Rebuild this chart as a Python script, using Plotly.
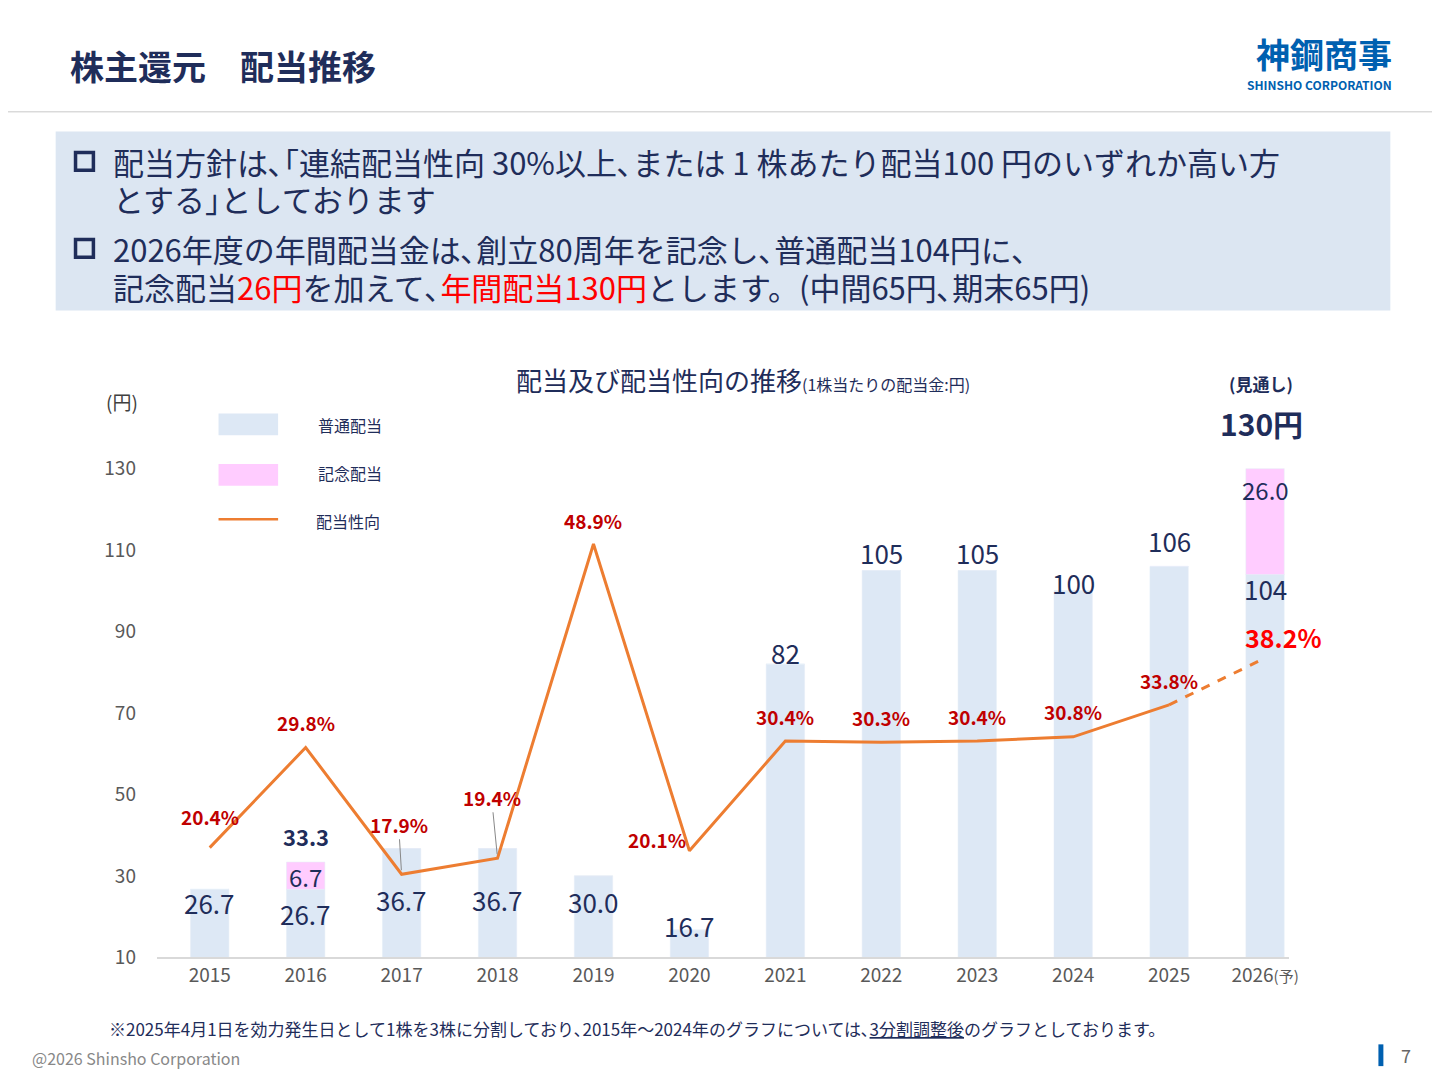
import plotly.graph_objects as go

W, H = 1440, 1080
FONT = "Noto Sans CJK JP"
NAVY = "#1F2D5A"
RED = "#C00000"

years = ["2015", "2016", "2017", "2018", "2019", "2020", "2021", "2022", "2023", "2024", "2025", "2026<span style='font-size:15px'>(予)</span>"]
ordinary = [26.7, 26.7, 36.7, 36.7, 30.0, 16.7, 82, 105, 105, 100, 106, 104]
commemorative = [0, 6.7, 0, 0, 0, 0, 0, 0, 0, 0, 0, 26.0]
payout = [20.4, 29.8, 17.9, 19.4, 48.9, 20.1, 30.4, 30.3, 30.4, 30.8, 33.8, 38.2]
ordinary_text = ["26.7", "26.7", "36.7", "36.7", "30.0", "16.7", "82", "105", "105", "100", "106", "104"]
payout_text = ["20.4%", "29.8%", "17.9%", "19.4%", "48.9%", "20.1%", "30.4%", "30.3%", "30.4%", "30.8%", "33.8%", "38.2%"]

# label placement (y in axis units / pixel shifts)
ord_label_y = [23.4, 20.7, 24.3, 24.3, 23.8, 17.8, 84.8, 109.3, 109.3, 102.1, 112.3, 100.6]
pay_shift = [(0, 31), (0, 25), (-3, 50), (-6, 61), (0, 24), (-32, 11), (0, 25), (0, 25), (0, 25), (0, 25), (0, 24), (18, 21)]

xi = list(range(len(years)))


def px(x):
    return x / W


def py(y):
    return 1 - y / H


fig = go.Figure()
fig.add_bar(x=xi, y=ordinary, base=0, marker_color="#DDE8F5", width=0.4,
            hoverinfo="skip", showlegend=False)
fig.add_bar(x=xi, y=commemorative, base=ordinary, marker_color="#FFCCFF", width=0.4,
            hoverinfo="skip", showlegend=False)
fig.add_scatter(x=xi[:-1], y=payout[:-1], yaxis="y2", mode="lines",
                line=dict(color="#ED7D31", width=3), showlegend=False)
fig.add_scatter(x=xi[-2:], y=payout[-2:], yaxis="y2", mode="lines",
                line=dict(color="#ED7D31", width=3, dash="dash"), showlegend=False)

ann = []
for x, t, yv in zip(xi, ordinary_text, ord_label_y):
    ann.append(dict(x=x, y=yv, xref="x", yref="y", text=t, showarrow=False,
                    font=dict(size=26, color=NAVY, family=FONT)))
ann += [
    dict(x=1, y=29.9, xref="x", yref="y", text="6.7", showarrow=False,
         font=dict(size=24, color=NAVY, family=FONT)),
    dict(x=1, y=39.9, xref="x", yref="y", text="<b>33.3</b>", showarrow=False,
         font=dict(size=22, color=NAVY, family=FONT)),
    dict(x=xi[-1], y=124.9, xref="x", yref="y", text="26.0", showarrow=False,
         font=dict(size=24, color=NAVY, family=FONT)),
]
for i, (t, v) in enumerate(zip(payout_text, payout)):
    dx, dy = pay_shift[i]
    big = i == len(xi) - 1
    f = dict(size=25 if big else 19, color="#FF0000" if big else RED, family=FONT)
    if i in (2, 3):
        ann.append(dict(x=i, y=v, xref="x", yref="y2", text="<b>" + t + "</b>", showarrow=True,
                        arrowhead=0, arrowcolor="#888", arrowwidth=1, ax=dx, ay=-dy,
                        standoff=4, font=f))
    else:
        ann.append(dict(x=i, y=v, xref="x", yref="y2", text="<b>" + t + "</b>", showarrow=False,
                        xshift=dx, yshift=dy, font=f))


def txt(x, y, t, size, color=NAVY, xa="left", bold=False):
    ann.append(dict(x=px(x), y=py(y), xref="paper", yref="paper", text=("<b>%s</b>" % t) if bold else t,
                    showarrow=False, xanchor=xa, yanchor="middle",
                    font=dict(size=size, color=color, family=FONT)))


txt(60, 58, "株主還元　配当推移", 34, color="#1F2D5A", bold=True)
txt(1396, 46, "神鋼商事", 34, color="#0060B0", xa="right", bold=True)
txt(1396, 77, "SHINSHO CORPORATION", 12, color="#0060B0", xa="right", bold=True)

txt(104, 155, "配当方針は､｢連結配当性向 30%以上､または 1 株あたり配当100 円のいずれか高い方", 31)
txt(104, 193, "とする｣としております", 31)
txt(104, 243, "2026年度の年間配当金は､創立80周年を記念し､普通配当104円に､", 31)
txt(104, 282, "記念配当<span style='color:#FF0000'>26円</span>を加えて､"
              "<span style='color:#FF0000'>年間配当130円</span>とします。(中間65円､期末65円)", 31)

txt(740, 376, "配当及び配当性向の推移<span style='font-size:16px'>(1株当たりの配当金:円)</span>", 26, xa="center")
txt(115, 398, "(円)", 19, color="#404040", xa="center")
txt(1262, 380, "<b>(見通し)</b>", 17, xa="center")
txt(1262, 420, "130円", 30, xa="center", bold=True)
txt(310, 422, "普通配当", 16)
txt(310, 470, "記念配当", 16)
txt(308, 519, "配当性向", 16)
txt(100, 1032, "※2025年4月1日を効力発生日として1株を3株に分割しており､2015年～2024年のグラフについては､"
               "<u>3分割調整後</u>のグラフとしております。", 17, color="#1F2D5A")
txt(22, 1062, "@2026 Shinsho Corporation", 16, color="#888888")
txt(1415, 1059, "7", 18, color="#666666", xa="right")

shapes = [
    dict(type="line", xref="paper", yref="paper", x0=0, x1=1, y0=py(105), y1=py(105),
         line=dict(color="#C8C8C8", width=1)),
    dict(type="rect", xref="paper", yref="paper", x0=px(48), x1=px(1392), y0=py(306), y1=py(125),
         fillcolor="#DCE6F2", line_width=0, layer="below"),
    dict(type="rect", xref="paper", yref="paper", x0=px(212), x1=px(272), y0=py(432), y1=py(410),
         fillcolor="#DDE8F5", line_width=0),
    dict(type="rect", xref="paper", yref="paper", x0=px(212), x1=px(272), y0=py(483), y1=py(461),
         fillcolor="#FFCCFF", line_width=0),
    dict(type="line", xref="paper", yref="paper", x0=px(212), x1=px(272), y0=py(517), y1=py(517),
         line=dict(color="#ED7D31", width=2.5)),
    dict(type="rect", xref="paper", yref="paper", x0=px(1380), x1=px(1385), y0=py(1070), y1=py(1048),
         fillcolor="#0060B0", line_width=0),
]
for yc in (155, 243):
    shapes.append(dict(type="rect", xref="paper", yref="paper", x0=px(68), x1=px(86),
                       y0=py(yc + 9), y1=py(yc - 9), line=dict(color="#1F2D5A", width=3.5)))

fig.update_layout(
    width=W, height=H, margin=dict(l=0, r=0, t=0, b=0),
    paper_bgcolor="white", plot_bgcolor="white", barmode="overlay",
    font=dict(family=FONT),
    xaxis=dict(domain=[px(150), px(1290)], range=[-0.55, 11.25], tickvals=xi, ticktext=years,
               showgrid=False, showline=True, zeroline=False,
               linecolor="#D9D9D9", linewidth=1.5, tickfont=dict(size=19, color="#595959"), ticks=""),
    yaxis=dict(domain=[py(960), py(360)], range=[10, 155.7], tickvals=[10, 30, 50, 70, 90, 110, 130],
               showgrid=False, zeroline=False, tickfont=dict(size=19, color="#595959"), ticklabelstandoff=20),
    yaxis2=dict(overlaying="y", range=[10.1, 65.8], visible=False),
    annotations=ann, shapes=shapes,
)
fig.write_html("out.html")
